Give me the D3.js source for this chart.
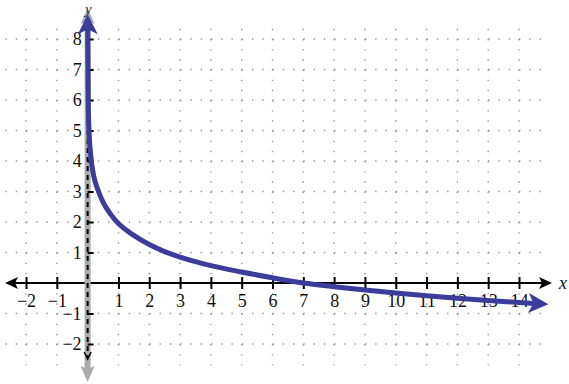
<!DOCTYPE html>
<html>
<head>
<meta charset="utf-8">
<script src="https://cdn.jsdelivr.net/npm/d3@7"></script>
<style>
  body { margin: 0; background: #fff; }
  svg { display: block; }
  svg text { font-family: "Liberation Serif", "DejaVu Serif", serif; }
</style>
</head>
<body>
<div id="chart"></div>
<script>
// values
let xTicks = [-2, -1, 1, 2, 3, 4, 5, 6, 7, 8, 9, 10, 11, 12, 13, 14];
let yTicks = [-2, -1, 1, 2, 3, 4, 5, 6, 7, 8];
let gridX = [-2, -1, 0, 1, 2, 3, 4, 5, 6, 7, 8, 9, 10, 11, 12, 13, 14];
let gridY = [-2, -1, 1, 2, 3, 4, 5, 6, 7, 8];
let curveX = [0.003, 0.02, 0.05, 0.1, 0.2, 0.3, 0.4, 0.5, 0.75, 1, 1.25, 1.5, 2, 2.5, 3, 3.5, 4, 5, 6, 7, 8, 9, 10, 11, 12, 13, 14, 14.5];
let curveY = [8.35, 5.9, 4.9, 4.2, 3.5, 3.15, 2.88, 2.65, 2.25, 1.95, 1.74, 1.56, 1.26, 1.03, 0.85, 0.7, 0.57, 0.36, 0.17, 0, -0.12, -0.23, -0.33, -0.42, -0.5, -0.57, -0.64, -0.67];

let width = 569, height = 384;
let blue = "#3c3c9a", gray = "#aaaaaa";
let serif = "Liberation Serif, DejaVu Serif, serif";

let svg = d3.select("#chart").append("svg")
    .attr("width", width)
    .attr("height", height);

let x = d3.scaleLinear().domain([-2, 14]).range([26, 519]);
let y = d3.scaleLinear().domain([-2, 8]).range([344, 39]);
let ux = x(1) - x(0), uy = y(0) - y(1);

// arrow markers
let defs = svg.append("defs");
function marker(id, color, len, half, notch, ref) {
    defs.append("marker")
        .attr("id", id)
        .attr("markerUnits", "userSpaceOnUse")
        .attr("viewBox", (-len - 2) + " " + (-half - 2) + " " + (len + 4) + " " + (2 * half + 4))
        .attr("markerWidth", len + 4).attr("markerHeight", 2 * half + 4)
        .attr("refX", ref).attr("refY", 0)
        .attr("orient", "auto-start-reverse")
        .append("path")
        .attr("d", "M0,0L" + (-len) + "," + (-half) + "L" + (-len + notch) + ",0L" + (-len) + "," + half + "Z")
        .attr("fill", color);
}
marker("arrBlue", blue, 20, 10, 5, -14);
marker("arrGray", gray, 16, 7, 3, -10);
marker("arrBlack", "#000", 13, 6, 3, -9);

// dotted grid
let g = svg.append("g").attr("class", "grid");
g.selectAll(".gh").data(gridY).join("line")
    .attr("x1", x(-3)).attr("x2", x(14.85))
    .attr("y1", d => y(d)).attr("y2", d => y(d))
    .attr("stroke", "#999").attr("stroke-width", 1.4)
    .attr("stroke-dasharray", "1.4," + (ux / 3 - 1.4));
g.selectAll(".gv").data(gridX).join("line")
    .attr("x1", d => x(d)).attr("x2", d => x(d))
    .attr("y1", y(8 + 1 / 3)).attr("y2", y(-2.7))
    .attr("stroke", "#999").attr("stroke-width", 1.4)
    .attr("stroke-dasharray", "1.4," + (uy / 3 - 1.4));

// x axis line with arrows
svg.append("line")
    .attr("x1", 14).attr("x2", 543)
    .attr("y1", y(0)).attr("y2", y(0))
    .attr("stroke", "#000").attr("stroke-width", 2)
    .attr("marker-start", "url(#arrBlack)")
    .attr("marker-end", "url(#arrBlack)");

// x ticks + labels
let xAxis = svg.append("g")
    .attr("transform", "translate(0," + (y(0) - 6) + ")")
    .call(d3.axisBottom(x).tickValues(xTicks).tickSize(12).tickSizeOuter(0));
xAxis.select(".domain").remove();
xAxis.selectAll(".tick line").attr("stroke", "#000").attr("stroke-width", 2);
xAxis.selectAll(".tick text")
    .attr("y", 30).attr("dy", 0)
    .attr("fill", "#111")
    .style("font-family", serif)
    .style("font-size", "18px");

// asymptote (gray) with arrows
svg.append("line")
    .attr("x1", x(0)).attr("x2", x(0))
    .attr("y1", 18).attr("y2", 372)
    .attr("stroke", gray).attr("stroke-width", 6)
    .attr("marker-start", "url(#arrGray)")
    .attr("marker-end", "url(#arrGray)");

// dashed y axis
svg.append("line")
    .attr("x1", x(0)).attr("x2", x(0))
    .attr("y1", 22).attr("y2", 358)
    .attr("stroke", "#000").attr("stroke-width", 2)
    .attr("stroke-dasharray", "5,4");
svg.append("path")
    .attr("d", "M" + (x(0) - 3.5) + ",352L" + x(0) + ",359L" + (x(0) + 3.5) + ",352")
    .attr("fill", "none").attr("stroke", "#000").attr("stroke-width", 1.5);

// y ticks + labels
let yAxis = svg.append("g")
    .attr("transform", "translate(" + x(0) + ",0)")
    .call(d3.axisRight(y).tickValues(yTicks).tickSize(6).tickSizeOuter(0));
yAxis.select(".domain").remove();
yAxis.selectAll(".tick line").attr("stroke", "#000").attr("stroke-width", 2);
yAxis.selectAll(".tick text")
    .attr("x", -6).attr("dy", "0.33em")
    .attr("text-anchor", "end")
    .attr("fill", "#111")
    .style("font-family", serif)
    .style("font-size", "18px");

// axis names
svg.append("text").attr("x", 559).attr("y", 289)
    .style("font-size", "18px").style("font-style", "italic").attr("fill", "#111").text("x");
svg.append("text").attr("x", 85).attr("y", 14)
    .style("font-size", "15px").style("font-style", "italic").attr("fill", "#333").text("y");

// the curve
let pts = curveX.map((d, i) => [d, curveY[i]]);
let line = d3.line()
    .x(d => x(d[0]))
    .y(d => y(d[1]))
    .curve(d3.curveMonotoneX);
svg.append("path")
    .datum(pts)
    .attr("d", line)
    .attr("fill", "none")
    .attr("stroke", blue)
    .attr("stroke-width", 5)
    .attr("marker-start", "url(#arrBlue)")
    .attr("marker-end", "url(#arrBlue)");
</script>
</body>
</html>
